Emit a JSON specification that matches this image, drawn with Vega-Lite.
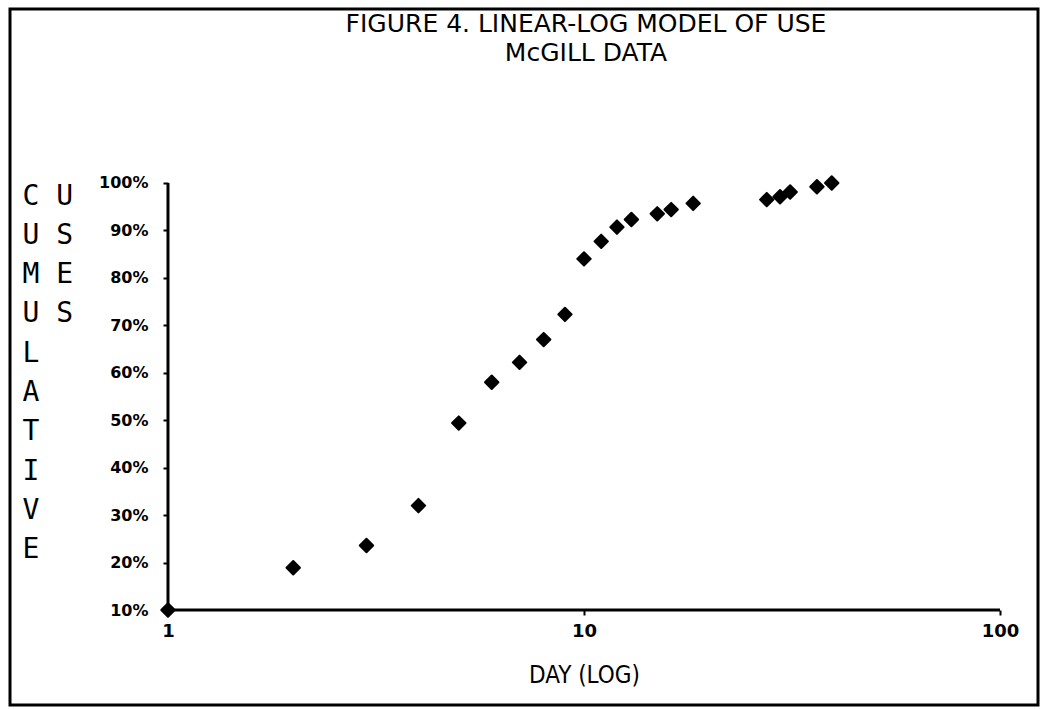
{
  "$schema": "https://vega.github.io/schema/vega-lite/v6.json",
  "autosize": {"type": "none"},
  "width": 1028,
  "height": 696,
  "padding": {"left": 10, "top": 9, "right": 4, "bottom": 4},
  "background": "white",
  "config": {
    "view": {"stroke": "black", "strokeWidth": 3},
    "axis": {"domain": false, "grid": false}
  },
  "title": {
    "text": "FIGURE 4. LINEAR-LOG MODEL OF USE",
    "subtitle": "McGILL DATA",
    "anchor": "middle",
    "orient": "top",
    "offset": -57,
    "dx": 62,
    "font": "DejaVu Sans",
    "fontSize": 25,
    "fontWeight": "normal",
    "color": "black",
    "subtitleFont": "DejaVu Sans",
    "subtitleFontSize": 25,
    "subtitleColor": "black",
    "subtitlePadding": 4
  },
  "data": {
    "values": [
      {"day": 1, "cum": 0.10},
      {"day": 2, "cum": 0.189},
      {"day": 3, "cum": 0.236},
      {"day": 4, "cum": 0.32},
      {"day": 5, "cum": 0.494},
      {"day": 6, "cum": 0.58},
      {"day": 7, "cum": 0.622},
      {"day": 8, "cum": 0.67},
      {"day": 9, "cum": 0.723},
      {"day": 10, "cum": 0.84},
      {"day": 11, "cum": 0.877},
      {"day": 12, "cum": 0.907},
      {"day": 13, "cum": 0.923},
      {"day": 15, "cum": 0.935},
      {"day": 16.2, "cum": 0.944},
      {"day": 18.3, "cum": 0.957},
      {"day": 27.5, "cum": 0.965},
      {"day": 29.6, "cum": 0.971},
      {"day": 31.3, "cum": 0.981},
      {"day": 36.3, "cum": 0.992},
      {"day": 39.4, "cum": 1.0}
    ]
  },
  "layer": [
    {
      "data": {"values": [{}]},
      "mark": {"type": "rule", "color": "black", "strokeWidth": 3},
      "encoding": {
        "x": {"datum": 1, "type": "quantitative", "scale": {"type": "log", "domain": [0.4171, 123.4], "nice": false}},
        "y": {"datum": 0.1, "type": "quantitative"},
        "y2": {"datum": 1.0}
      }
    },
    {
      "data": {"values": [{}]},
      "mark": {"type": "rule", "color": "black", "strokeWidth": 3},
      "encoding": {
        "x": {"datum": 1, "type": "quantitative"},
        "x2": {"datum": 100},
        "y": {"datum": 0.1, "type": "quantitative"}
      }
    },
    {
      "mark": {"type": "point", "shape": "diamond", "filled": true, "color": "black", "size": 180, "stroke": "black", "strokeWidth": 2, "strokeJoin": "round", "opacity": 1},
      "encoding": {
        "x": {
          "field": "day",
          "type": "quantitative",
          "scale": {"type": "log", "domain": [0.4171, 123.4], "nice": false},
          "axis": {
            "orient": "bottom",
            "offset": -95,
            "values": [1, 10, 100],
            "format": "d",
            "ticks": true,
            "tickSize": 5,
            "tickWidth": 2,
            "tickColor": "black",
            "labelFont": "DejaVu Sans",
            "labelFontWeight": "bold",
            "labelFontSize": 18,
            "labelColor": "black",
            "labelPadding": 7,
            "labelFlush": false,
            "title": "DAY (LOG)",
            "titleFont": "DejaVu Sans Condensed",
            "titleFontSize": 24,
            "titleFontWeight": "normal",
            "titleColor": "black",
            "titleX": 574,
            "titleY": 72,
            "titleAlign": "center",
            "titleBaseline": "alphabetic"
          }
        },
        "y": {
          "field": "cum",
          "type": "quantitative",
          "scale": {"domain": [-0.1002, 1.3667], "nice": false, "zero": false},
          "axis": {
            "orient": "left",
            "offset": -158,
            "values": [0.1, 0.2, 0.3, 0.4, 0.5, 0.6, 0.7, 0.8, 0.9, 1.0],
            "format": ".0%",
            "ticks": true,
            "tickSize": 5,
            "tickWidth": 2,
            "tickColor": "black",
            "labelFont": "DejaVu Sans",
            "labelFontWeight": "bold",
            "labelFontSize": 16,
            "labelColor": "black",
            "labelPadding": 15,
            "labelFlush": false,
            "title": ["C U", "U S", "M E", "U S", "L", "A", "T", "I", "V", "E"],
            "titleFont": "DejaVu Sans Mono",
            "titleFontSize": 28,
            "titleFontWeight": "normal",
            "titleColor": "black",
            "titleAngle": 0,
            "titleAlign": "left",
            "titleBaseline": "alphabetic",
            "titleLineHeight": 39.3,
            "titleX": -146,
            "titleY": 195
          }
        }
      }
    }
  ]
}
